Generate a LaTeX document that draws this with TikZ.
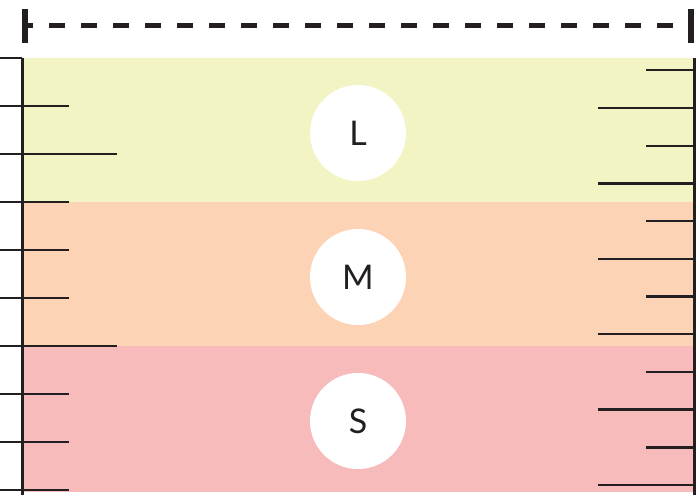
\documentclass[tikz,border=0pt]{standalone}
\usepackage{fontspec}
\setmainfont{Lato}
\usetikzlibrary{positioning}
\definecolor{bandL}{RGB}{242,244,195}
\definecolor{bandM}{RGB}{253,211,181}
\definecolor{bandS}{RGB}{248,187,188}
\definecolor{inkdark}{RGB}{35,31,32}
\tikzset{
    band/.style={draw=none, minimum width=672pt, minimum height=144pt, inner sep=0pt},
    sizelabel/.style={circle, fill=white, minimum size=96pt, inner sep=0pt, font=\fontsize{34}{34}\selectfont, text=inkdark},
    tick/.style={line width=2.4pt, draw=inkdark}
}
\begin{document}
\begin{tikzpicture}[x=1pt, y=-1pt]
    \useasboundingbox (0,0) rectangle (696,495);
    % bands
    \node[band, fill=bandL] (large) at (358,130) {};
    \node[band, fill=bandM] (medium) at (358,274) {};
    \node[band, fill=bandS, minimum height=146pt] (small) at (358,419) {};
    \node[sizelabel] (labL) at (358,133) {L};
    \node[sizelabel] (labM) at (358,277) {M};
    \node[sizelabel] (labS) at (358,421) {S};
    % left scale
    \draw[line width=3pt, inkdark] (22,58) -- (22,495);
    \foreach \i in {0,...,9} {
        \pgfmathsetmacro{\yy}{58+48*\i}
        \pgfmathsetmacro{\xr}{ifthenelse(\i==0,22,ifthenelse(\i==2||\i==6,117,69))}
        \draw[tick] (0,\yy) -- (\xr,\yy);
    }
    % right scale
    \draw[line width=3pt, inkdark] (694,58) -- (694,495);
    \foreach \i in {0,...,11} {
        \pgfmathsetmacro{\yy}{70.3+37.7*\i}
        \pgfmathsetmacro{\xl}{ifthenelse(mod(\i,2)==0,646,598)}
        \draw[tick] (\xl,\yy) -- (694,\yy);
    }
    % width marker
    \coordinate (wl) at (28,26);
    \coordinate (wr) at (688,26);
    \draw[line width=5pt, inkdark, dash pattern=on 16pt off 16pt, dash phase=11pt] (wl) -- (wr);
    \fill[inkdark] (22,9) rectangle (28,43);
    \fill[inkdark] (688,9) rectangle (694,43);
\end{tikzpicture}
\end{document}
